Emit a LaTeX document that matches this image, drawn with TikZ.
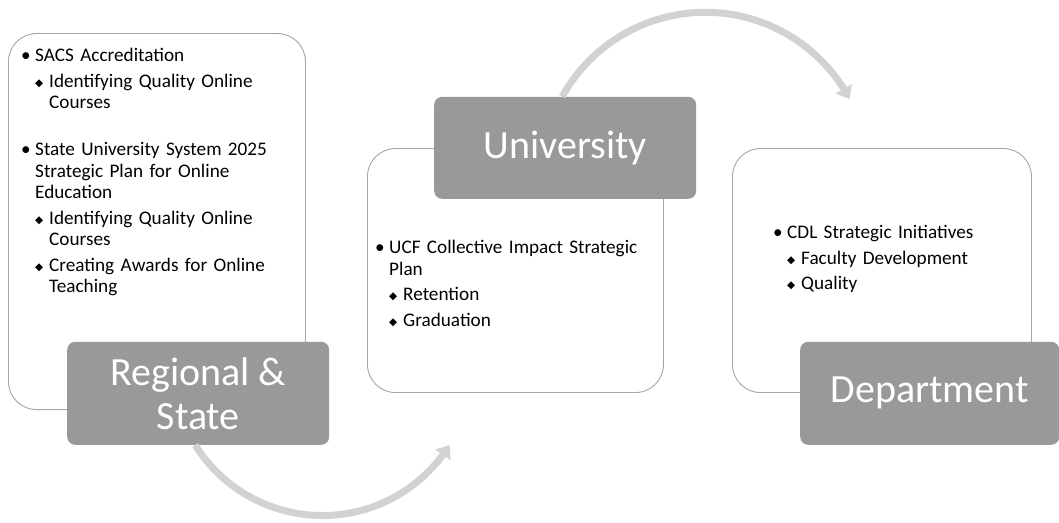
\documentclass[tikz,border=0pt]{standalone}
\usepackage{fontspec}
\setmainfont{Carlito}
\newfontfamily\symfont{DejaVu Sans}
\usetikzlibrary{arrows.meta,bending}

\definecolor{boxgray}{HTML}{999999}
\definecolor{edgegray}{HTML}{A6A6A6}
\definecolor{arcgray}{HTML}{D2D2D2}

% first-level bullet and second-level diamond entries (hanging indent kept across \newline)
\newcommand{\lvlone}[1]{\hangindent=14pt\hangafter=1\noindent\makebox[14pt][l]{•}#1\par}
\newcommand{\lvltwo}[1]{\hangindent=28pt\hangafter=1\noindent\hspace*{14pt}\makebox[14pt][l]{\raisebox{1pt}{\symfont\fontsize{10.5}{10.5}\selectfont ◆}}#1\par}

\tikzset{
  wbox/.style={draw=edgegray, line width=0.9pt, fill=white, rounded corners=28pt, anchor=south west, inner sep=0pt},
  gbox/.style={fill=boxgray, rounded corners=8pt, anchor=south west, inner sep=0pt},
  gtext/.style={text=white, font=\fontsize{40}{44}\selectfont, align=center, inner sep=0pt},
  listtext/.style={anchor=base west, inner sep=0pt, text width=300pt,
    font=\fontsize{19.2}{21.5}\selectfont,
    execute at begin node={\raggedright\setlength{\parskip}{4pt}}},
  flow/.style={draw=arcgray, line width=7pt, -{Triangle[length=12pt,width=18pt]}}
}

\begin{document}
\begin{tikzpicture}[x=1pt,y=1pt]
\useasboundingbox (0,0) rectangle (1059,522);

% text panels
\node[wbox, minimum width=297pt, minimum height=376pt] (lbox) at (8,112) {};
\node[wbox, minimum width=296pt, minimum height=244pt] (ubox) at (367,129) {};
\node[wbox, minimum width=299pt, minimum height=244pt] (dbox) at (732,129) {};

% title tabs
\node[gbox, minimum width=262pt, minimum height=103pt] (rgray) at (67,77) {};
\node[gbox, minimum width=262pt, minimum height=102pt] (ugray) at (434,323) {};
\node[gbox, minimum width=259pt, minimum height=103pt] (dgray) at (800,77) {};

% curved flow arrows
\draw[flow] ([xshift=-3pt]ugray.north) arc[start angle=151, end angle=28, radius=163.6pt];
\draw[flow] ([xshift=-3pt]rgray.south) arc[start angle=212, end angle=328, radius=150pt];

\node[gtext] (rlabel) at (rgray.center) {Regional \&\\State};
\node[gtext] (ulabel) at (ugray.center) {University};
\node[gtext] (dlabel) at (dgray.center) {Department};

% panel contents
\node[listtext] (ltext) at (21,460) {%
  \lvlone{SACS Accreditation}%
  \lvltwo{Identifying Quality Online\newline Courses}%
  \vspace{21.5pt}%
  \lvlone{State University System 2025\newline Strategic Plan for Online\newline Education}%
  \lvltwo{Identifying Quality Online\newline Courses}%
  \lvltwo{Creating Awards for Online\newline Teaching}};

\node[listtext] (utext) at (375,268) {%
  \lvlone{UCF Collective Impact Strategic\newline Plan}%
  \lvltwo{Retention}%
  \lvltwo{Graduation}};

\node[listtext] (dtext) at (773,283) {%
  \lvlone{CDL Strategic Initiatives}%
  \lvltwo{Faculty Development}%
  \lvltwo{Quality}};
\end{tikzpicture}
\end{document}
